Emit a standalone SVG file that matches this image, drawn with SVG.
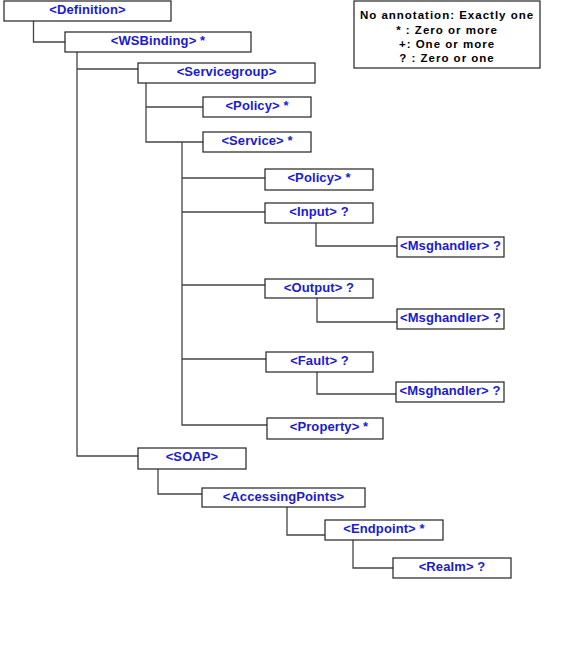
<svg xmlns="http://www.w3.org/2000/svg" width="578" height="649" viewBox="0 0 578 649">
<style>
.box{fill:#fff;stroke:#222;stroke-width:1.2}
.lbl{font-family:"Liberation Sans",Arial,sans-serif;font-weight:bold;font-size:13px;fill:#1a1ad2;text-anchor:middle;letter-spacing:0.1px}
.leg{font-family:"Liberation Sans",Arial,sans-serif;font-weight:bold;font-size:11.5px;fill:#000;text-anchor:middle;letter-spacing:1px}
.con{fill:none;stroke:#444;stroke-width:1.3}
</style>
<rect width="578" height="649" fill="#fff"/>
<g id="connectors" class="con">
<path d="M33.5,21V42H65"/>
<path d="M77,52V456H138M77,69H138"/>
<path d="M146,83V142H203M146,107H203"/>
<path d="M182,142V425H267M182,178H265M182,212H265M182,285H265M182,359H266"/>
<path d="M316,223V246H397"/>
<path d="M317,298V322H397"/>
<path d="M317,372V394H396"/>
<path d="M158,469V494H202"/>
<path d="M287,507V535H325"/>
<path d="M353,540V568H393"/>
</g>
<g id="definition"><rect class="box" x="4" y="1" width="167" height="20"/><text class="lbl" x="87.5" y="14">&lt;Definition&gt;</text></g>
<g id="wsbinding"><rect class="box" x="65" y="32" width="186" height="20"/><text class="lbl" x="158" y="45">&lt;WSBinding&gt; *</text></g>
<g id="servicegroup"><rect class="box" x="138" y="63" width="177" height="20"/><text class="lbl" x="226.5" y="76">&lt;Servicegroup&gt;</text></g>
<g id="policy1"><rect class="box" x="203" y="97" width="108" height="20"/><text class="lbl" x="257" y="110">&lt;Policy&gt; *</text></g>
<g id="service"><rect class="box" x="203" y="132" width="108" height="20"/><text class="lbl" x="257" y="145">&lt;Service&gt; *</text></g>
<g id="policy2"><rect class="box" x="265" y="169" width="108" height="21"/><text class="lbl" x="319" y="182">&lt;Policy&gt; *</text></g>
<g id="input"><rect class="box" x="265" y="203" width="108" height="20"/><text class="lbl" x="319" y="216">&lt;Input&gt; ?</text></g>
<g id="msghandler1"><rect class="box" x="397" y="237" width="107" height="20"/><text class="lbl" x="450.5" y="249.5">&lt;Msghandler&gt; ?</text></g>
<g id="output"><rect class="box" x="265" y="279" width="108" height="19"/><text class="lbl" x="319" y="292">&lt;Output&gt; ?</text></g>
<g id="msghandler2"><rect class="box" x="397" y="309" width="107" height="20"/><text class="lbl" x="450.5" y="321.5">&lt;Msghandler&gt; ?</text></g>
<g id="fault"><rect class="box" x="266" y="352" width="107" height="20"/><text class="lbl" x="319.5" y="365">&lt;Fault&gt; ?</text></g>
<g id="msghandler3"><rect class="box" x="396" y="382" width="108" height="20"/><text class="lbl" x="450" y="394.5">&lt;Msghandler&gt; ?</text></g>
<g id="property"><rect class="box" x="267" y="418" width="116" height="21"/><text class="lbl" x="329" y="431">&lt;Property&gt; *</text></g>
<g id="soap"><rect class="box" x="138" y="448" width="108" height="21"/><text class="lbl" x="192" y="461">&lt;SOAP&gt;</text></g>
<g id="accessingpoints"><rect class="box" x="202" y="488" width="163" height="19"/><text class="lbl" x="283.5" y="501">&lt;AccessingPoints&gt;</text></g>
<g id="endpoint"><rect class="box" x="325" y="520" width="118" height="20"/><text class="lbl" x="384" y="533">&lt;Endpoint&gt; *</text></g>
<g id="realm"><rect class="box" x="393" y="558" width="118" height="20"/><text class="lbl" x="452" y="571">&lt;Realm&gt; ?</text></g>
<g id="legend"><rect class="box" x="354" y="1" width="186" height="67"/>
<text class="leg" x="447" y="19">No annotation: Exactly one</text>
<text class="leg" x="447" y="34">* : Zero or more</text>
<text class="leg" x="447" y="48">+:  One or more</text>
<text class="leg" x="447" y="62">? :  Zero or one</text>
</g>
</svg>
